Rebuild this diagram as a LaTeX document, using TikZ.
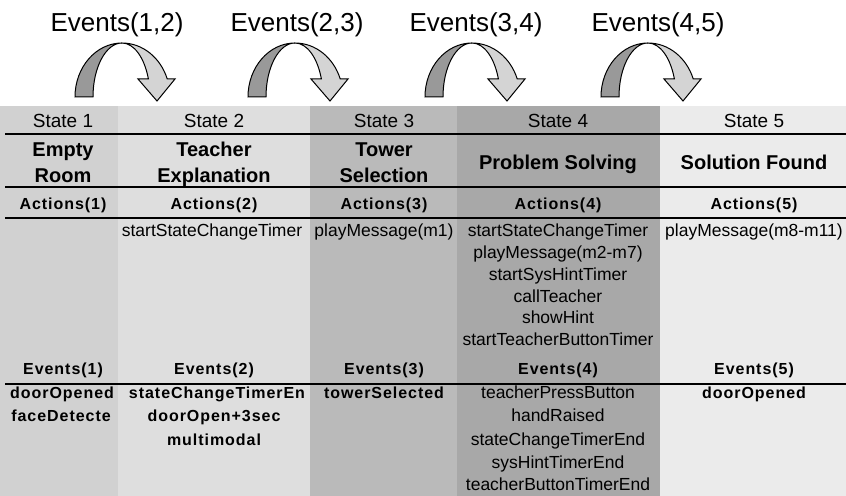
\documentclass[tikz,border=0pt]{standalone}
\usepackage{fontspec}
\setmainfont{Liberation Sans}
\newfontfamily\trackfont[LetterSpace=6]{Liberation Sans}
\begin{document}
\begin{tikzpicture}
		[	x=0.5pt, y=-0.5pt,
		toplbl/.style={font=\fontsize{13}{15}\selectfont, anchor=base, inner sep=0pt},
		stlbl/.style={font=\fontsize{9.5}{11}\selectfont, anchor=base, inner sep=0pt},
		title/.style={font=\bfseries\fontsize{10}{12}\selectfont, anchor=base, inner sep=0pt},
		head/.style={font=\trackfont\bfseries\fontsize{8}{10}\selectfont, anchor=base, inner sep=0pt},
		item/.style={font=\fontsize{8.75}{10}\selectfont, anchor=base, inner sep=0pt},
		evitem/.style={font=\trackfont\bfseries\fontsize{8}{10}\selectfont, anchor=base, inner sep=0pt},
		rule/.style={draw=black, line width=#1},
		curvarr/.pic={
			\filldraw[fill=black!40, line width=0.5pt] (-47,0) arc[start angle=180, end angle=270, x radius=47, y radius=54]
				arc[start angle=270, end angle=180, x radius=29, y radius=54] -- cycle;
			\filldraw[fill=black!17, line width=0.5pt] (0,-54) arc[start angle=270, end angle=340.53, x radius=48, y radius=54]
				-- (53,-18) -- (35,4) -- (16,-18) -- (26.4,-18)
				arc[start angle=340.53, end angle=270, x radius=28, y radius=54] -- cycle;
		}
		]
		\useasboundingbox (0,0) rectangle (846,496);

		% column backgrounds
		\fill[black!18] (0,106) rectangle (118,496);
		\fill[black!13] (118,106) rectangle (310,496);
		\fill[black!27] (310,106) rectangle (457,496);
		\fill[black!34] (457,106) rectangle (660,496);
		\fill[black!8] (660,106) rectangle (846,496);

		\draw[rule=1pt] (5,134) -- (846,134);
		\draw[rule=1.1pt] (5,187) -- (846,187);
		\draw[rule=0.6pt] (5,218) -- (846,218);
		\draw[rule=0.7pt] (5,384) -- (846,384);

		% transitions
		\node[toplbl] (ev12) at (117,32){Events(1,2)};
		\node[toplbl] (ev23) at (297,32){Events(2,3)};
		\node[toplbl] (ev34) at (476,32){Events(3,4)};
		\node[toplbl] (ev45) at (658,32){Events(4,5)};
		\pic at (122,97) {curvarr};
		\pic at (295,97) {curvarr};
		\pic at (472,97) {curvarr};
		\pic at (648,97) {curvarr};

		\node[stlbl] (st1) at (63,128){State 1};
		\node[stlbl] (st2) at (214,128){State 2};
		\node[stlbl] (st3) at (384,128){State 3};
		\node[stlbl] (st4) at (558,128){State 4};
		\node[stlbl] (st5) at (754,128){State 5};

		\node[title] (tt1a) at (63,157){Empty};
		\node[title] (tt1b) at (63,183){Room};
		\node[title] (tt2a) at (214,157){Teacher};
		\node[title] (tt2b) at (214,183){Explanation};
		\node[title] (tt3a) at (384,157){Tower};
		\node[title] (tt3b) at (384,183){Selection};
		\node[title] (tt4) at (558,170){Problem Solving};
		\node[title] (tt5) at (754,170){Solution Found};

		\node[head] (act1) at (63,210){Actions(1)};
		\node[head] (act2) at (214,210){Actions(2)};
		\node[head] (act3) at (384,210){Actions(3)};
		\node[head] (act4) at (558,210){Actions(4)};
		\node[head] (act5) at (754,210){Actions(5)};

\node[item] (a2a) at (212,237){startStateChangeTimer};
\node[item] (a3a) at (384,237){playMessage(m1)};
\node[item] (a4a) at (558,237){startStateChangeTimer};
\node[item] (a4b) at (558,258.7){playMessage(m2-m7)};
\node[item] (a4c) at (558,280.4){startSysHintTimer};
\node[item] (a4d) at (558,302.1){callTeacher};
\node[item] (a4e) at (558,323.8){showHint};
\node[item] (a4f) at (558,345.5){startTeacherButtonTimer};
\node[item] (a5a) at (754,237){playMessage(m8-m11)};

		\node[head] (evt1) at (63,375){Events(1)};
		\node[head] (evt2) at (214,375){Events(2)};
		\node[head] (evt3) at (384,375){Events(3)};
		\node[head] (evt4) at (558,375){Events(4)};
		\node[head] (evt5) at (754,375){Events(5)};

\node[evitem] (e1a) at (62,399){doorOpened};
\node[evitem] (e1b) at (61,422){faceDetecte};
\node[evitem] (e2a) at (217,399){stateChangeTimerEn};
\node[evitem] (e2b) at (214,422){doorOpen+3sec};
\node[evitem] (e2c) at (214,445){multimodal};
\node[evitem] (e3a) at (384,399){towerSelected};
\node[item] (e4a) at (558,399){teacherPressButton};
\node[item] (e4b) at (558,422){handRaised};
\node[item] (e4c) at (558,445){stateChangeTimerEnd};
\node[item] (e4d) at (558,468){sysHintTimerEnd};
\node[item] (e4e) at (558,491){teacherButtonTimerEnd};
\node[evitem] (e5a) at (754,399){doorOpened};
	\end{tikzpicture}
\end{document}
